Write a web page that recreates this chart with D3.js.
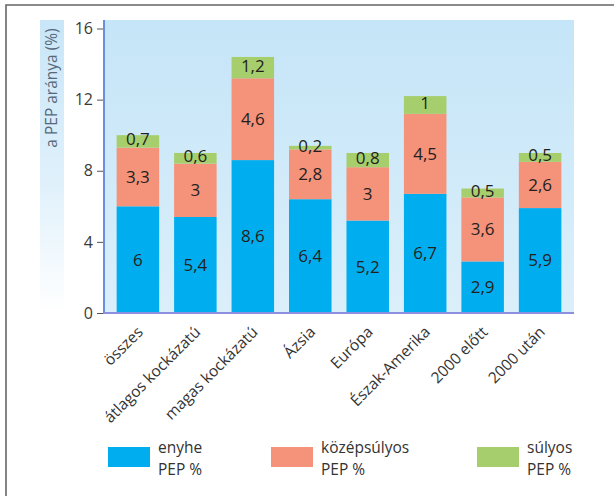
<!DOCTYPE html>
<html><head><meta charset="utf-8">
<script src="https://cdn.jsdelivr.net/npm/d3@7"></script>
<style>
html,body{margin:0;padding:0;background:#fff;}
svg{display:block;font-family:"Open Sans",sans-serif;}
</style></head>
<body>
<svg id="c" width="614" height="496"></svg>
<script>
const categories = ["összes","átlagos kockázatú","magas kockázatú","Ázsia","Európa","Észak-Amerika","2000 előtt","2000 után"];
const enyhe = [6, 5.4, 8.6, 6.4, 5.2, 6.7, 2.9, 5.9];
const kozepsulyos = [3.3, 3, 4.6, 2.8, 3, 4.5, 3.6, 2.6];
const sulyos = [0.7, 0.6, 1.2, 0.2, 0.8, 1, 0.5, 0.5];
const seriesNames = ["enyhe", "középsúlyos", "súlyos"];
const legendLine2 = "PEP %";
const yTicks = [0, 4, 8, 12, 16];
const yTitle = "a PEP aránya (%)";
const colors = ["#00aeef", "#f4927a", "#a7ce6d"];

const svg = d3.select("#c");
const defs = svg.append("defs");
const g1 = defs.append("linearGradient").attr("id","bg").attr("x1",0).attr("y1",0).attr("x2",0).attr("y2",1);
g1.append("stop").attr("offset","0%").attr("stop-color","#c5e5f8");
g1.append("stop").attr("offset","100%").attr("stop-color","#dbeffa");
const g2 = defs.append("linearGradient").attr("id","band").attr("x1",0).attr("y1",0).attr("x2",0).attr("y2",1);
g2.append("stop").attr("offset","0%").attr("stop-color","#c8e6f8");
g2.append("stop").attr("offset","55%").attr("stop-color","#dff0fb");
g2.append("stop").attr("offset","100%").attr("stop-color","#ffffff");

const pL = 104, pR = 574, pT = 20, pB = 313;
const x = d3.scaleBand().domain(categories).range([pL, pR]).paddingInner(0.26).paddingOuter(0.22);
const y = d3.scaleLinear().domain([0, 16]).range([pB, 28.5]);

// frame
svg.append("path").attr("d","M6,500 L6,5 L620,5").attr("fill","none").attr("stroke","#666").attr("stroke-width",1.6);

// y title band
svg.append("rect").attr("x",40).attr("y",pT).attr("width",24).attr("height",pB-pT).attr("fill","url(#band)");
// plot background
svg.append("rect").attr("x",pL).attr("y",pT).attr("width",pR-pL).attr("height",pB-pT).attr("fill","url(#bg)");

// stacked data
const rows = categories.map((c,i)=>({cat:c, enyhe:enyhe[i], "középsúlyos":kozepsulyos[i], "súlyos":sulyos[i]}));
const stack = d3.stack().keys(seriesNames)(rows);

const fmt = v => String(v).replace(".", ",");

stack.forEach((layer, li) => {
  const gl = svg.append("g");
  gl.selectAll("rect").data(layer).enter().append("rect")
    .attr("x", d => x(d.data.cat))
    .attr("y", d => y(d[1]))
    .attr("width", x.bandwidth())
    .attr("height", d => y(d[0]) - y(d[1]))
    .attr("fill", colors[li]);
});
stack.forEach((layer, li) => {
  const key = seriesNames[li];
  svg.append("g").selectAll("text").data(layer).enter().append("text")
    .attr("x", d => x(d.data.cat) + x.bandwidth()/2)
    .attr("y", d => y((d[0]+d[1])/2) - (li===2 ? 2 : 0))
    .attr("dy", "0.35em")
    .attr("text-anchor","middle")
    .attr("font-size", 17)
    .attr("fill", "#231f20")
    .text(d => fmt(d.data[key]));
});

// y axis
const yAxis = d3.axisLeft(y).tickValues(yTicks).tickSize(7).tickPadding(4).tickFormat(d3.format("d"));
const ya = svg.append("g").attr("transform",`translate(${pL},0)`).call(yAxis);
ya.select(".domain").remove();
ya.selectAll("line").attr("stroke","#555");
ya.selectAll("text").attr("font-size",16).attr("fill","#3a3a3a").attr("font-family","'Open Sans',sans-serif");
svg.append("line").attr("x1",pL).attr("x2",pL).attr("y1",pT).attr("y2",pB+1).attr("stroke","#6b8fe0").attr("stroke-width",2);

// x axis
const xAxis = d3.axisBottom(x).tickSize(0).tickPadding(0);
const xa = svg.append("g").attr("transform",`translate(0,${pB})`).call(xAxis);
xa.select(".domain").attr("stroke","#8c8fe0").attr("stroke-width",2).attr("d",`M${pL},0H${pR}`);
xa.selectAll("text")
  .attr("font-size",15.5).attr("fill","#333").attr("font-family","'Open Sans',sans-serif")
  .attr("text-anchor","end")
  .attr("y",0).attr("dy",0)
  .attr("transform", `translate(6,20) rotate(-45)`);

// y title
svg.append("text").attr("transform","translate(57,88) rotate(-90)")
  .attr("text-anchor","middle").attr("font-size",15.5).attr("fill","#56687a").text(yTitle);

// legend
const legX = [108, 271, 477];
seriesNames.forEach((n, i) => {
  const lg = svg.append("g").attr("transform",`translate(${legX[i]},447)`);
  lg.append("rect").attr("width",42).attr("height",20).attr("fill",colors[i]);
  const t = lg.append("text").attr("font-size",15.5).attr("fill","#333");
  t.append("tspan").attr("x",50).attr("y",6).text(n);
  t.append("tspan").attr("x",50).attr("y",27.5).text(legendLine2);
});
</script>
</body></html>
